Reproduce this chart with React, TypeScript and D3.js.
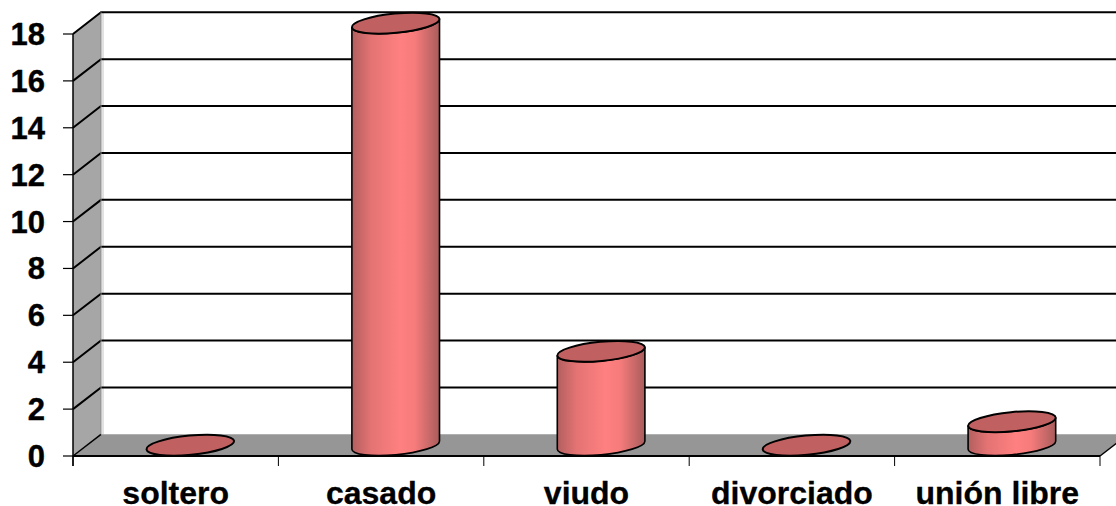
import React from "react";
import * as d3 from "d3";

const categories = ["soltero", "casado", "viudo", "divorciado", "unión libre"];
const values = [0, 18, 4, 0, 1];
const yTicks = [0, 2, 4, 6, 8, 10, 12, 14, 16, 18];

const W = 1116, H = 506;
const dx = 28, dy = 21.7;
const x = d3.scaleBand<string>().domain(categories).range([73, 1100]);
const y = d3.scaleLinear().domain([0, 18]).range([456, 34]);
const rx = 44, ry = 9.6, deg = -5.5;
const th = (deg * Math.PI) / 180;
const t0 = Math.atan2(-ry * Math.sin(th), rx * Math.cos(th));
const ex = rx * Math.cos(t0) * Math.cos(th) - ry * Math.sin(t0) * Math.sin(th);
const ey = rx * Math.cos(t0) * Math.sin(th) + ry * Math.sin(t0) * Math.cos(th);
const FONT = "'Liberation Sans', Arial, sans-serif";

export default function App() {
  const y0 = y(0), yTop = y(18);
  return (
    <svg width={W} height={H} style={{ position: "absolute", left: 0, top: 0 }}>
      <defs>
        <linearGradient id="side" x1="0" x2="1" y1="0" y2="0">
          <stop offset="0" stopColor="#b25f5f" />
          <stop offset="0.22" stopColor="#e47373" />
          <stop offset="0.55" stopColor="#ff8080" />
          <stop offset="0.72" stopColor="#f67b7b" />
          <stop offset="1" stopColor="#a85c5c" />
        </linearGradient>
      </defs>
      <rect width={W} height={H} fill="#fff" />
      <line x1={x.range()[0] + dx + 2} x2={x.range()[0] + dx + 2} y1={yTop - dy} y2={y0 - dy} stroke="#e2e2e2" strokeWidth={2} />
      <polygon points={`73,${y0} 101,${y0 - dy} 101,${yTop - dy} 73,${yTop}`} fill="#a6a6a6" />
      <polygon points={`73,${y0} 101,${y0 - dy} 1128,${y0 - dy} 1100,${y0}`} fill="#969696" />
      {yTicks.map((t) => (
        <g key={t}>
          {t > 0 && <polyline points={`73,${y(t)} 101,${y(t) - dy} 1128,${y(t) - dy}`} fill="none" stroke="#000" strokeWidth={2} />}
          {t === 0 && <line x1={73} y1={y(0)} x2={101} y2={y(0) - dy} stroke="#000" strokeWidth={1.5} />}
          <line x1={63} x2={73} y1={y(t)} y2={y(t)} stroke="#000" strokeWidth={1.2} />
          <text x={45} y={y(t) + 11} textAnchor="end" fontFamily={FONT} fontWeight="bold" fontSize={31} fill="#000" stroke="#000" strokeWidth={0.4}>{t}</text>
        </g>
      ))}
      <line x1={101} x2={101} y1={yTop - dy} y2={y0 - dy} stroke="#8a8a8a" strokeWidth={1} />
      <line x1={73} x2={73} y1={yTop} y2={y0 + 10} stroke="#000" strokeWidth={1.5} />
      <line x1={73} x2={1100} y1={y0} y2={y0} stroke="#000" strokeWidth={2} />
      <line x1={1100} y1={y0} x2={1128} y2={y0 - dy} stroke="#000" strokeWidth={1.5} />
      {[...categories, null].map((c, i) => {
        const px = c ? x(c)! : x.range()[1];
        return <line key={i} x1={px} x2={px} y1={y0} y2={y0 + 10} stroke="#000" strokeWidth={1} />;
      })}
      {categories.map((c, i) => {
        const cx = x(c)! + x.bandwidth() / 2 + dx / 2 + 0.6;
        const cyB = y(0) - dy / 2;
        const cyT = y(values[i]) - dy / 2;
        const top = (
          <ellipse cx={cx} cy={cyT} rx={rx} ry={ry} transform={`rotate(${deg} ${cx} ${cyT})`} fill="#c06060" stroke="#000" strokeWidth={2} />
        );
        const side = values[i] > 0 && (
          <path
            d={`M${cx - ex},${cyT - ey} L${cx - ex},${cyB - ey} A${rx},${ry} ${deg} 0 0 ${cx + ex},${cyB + ey} L${cx + ex},${cyT + ey} A${rx},${ry} ${deg} 0 1 ${cx - ex},${cyT - ey} Z`}
            fill="url(#side)"
            stroke="#000"
            strokeWidth={1.6}
          />
        );
        return <g key={c}>{side}{top}</g>;
      })}
      {categories.map((c) => (
        <text key={c} x={x(c)! + x.bandwidth() / 2} y={504} textAnchor="middle" fontFamily={FONT} fontWeight="bold" fontSize={32} fill="#000" stroke="#000" strokeWidth={0.3}>{c}</text>
      ))}
    </svg>
  );
}
